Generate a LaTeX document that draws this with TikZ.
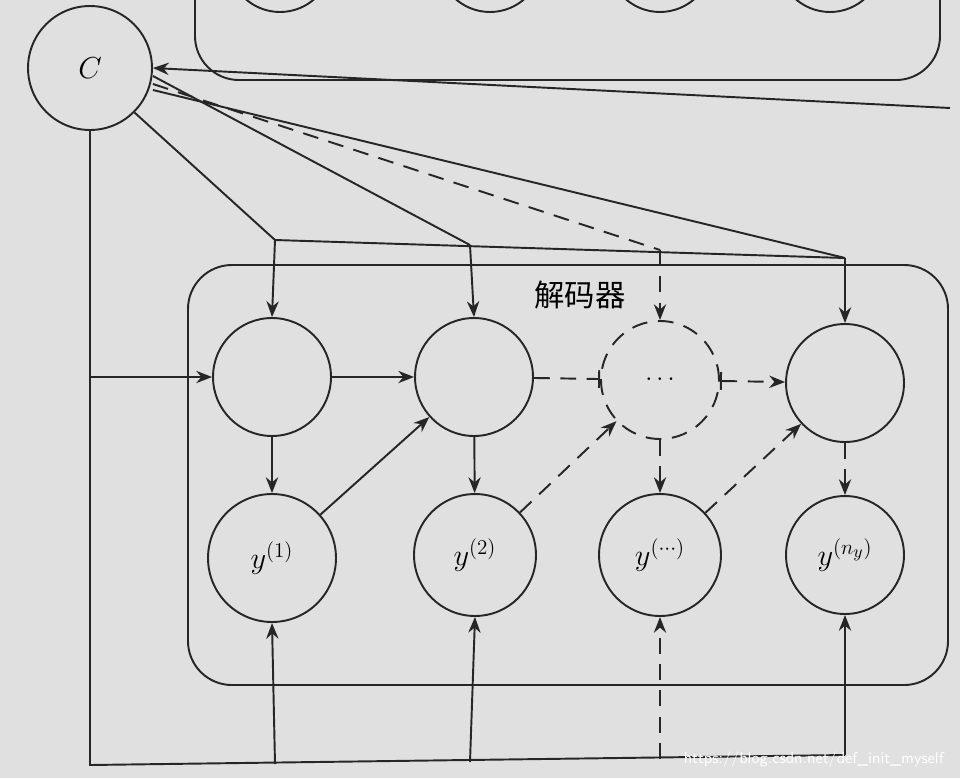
\documentclass[tikz,border=0pt]{standalone}
\usepackage{fontspec}
\newfontfamily\cjk{Noto Sans CJK SC}
\usetikzlibrary{arrows.meta}
\begin{document}
\begin{tikzpicture}[x=0.02cm,y=-0.02cm,
  ln/.style={line width=1.1pt,draw=black!85},
  ar/.style={ln,-{Stealth[length=9pt,width=7pt]}},
  cir/.style={circle,ln,inner sep=0pt},
  dsh/.style={dash pattern=on 9pt off 6pt}]
\fill[black!12] (0,0) rectangle (960,778);
\useasboundingbox (0,0) rectangle (960,778);
\begin{scope}
\clip (0,0) rectangle (960,778);
% top encoder box (partial)
\draw[ln,rounded corners=25pt] (195,-60) rectangle (940,80);
\foreach \x in {280,490,660,830} \draw[ln] (\x,-40) circle (52);
\end{scope}
\node[cir,minimum size=2.48cm] (C) at (90,68) {\LARGE $C$};
\coordinate (enc) at (950,108);
\draw[ar] (enc) -- (C.east);
% decoder box
\draw[ln,rounded corners=25pt] (188,265) rectangle (948,685);
\node at (580,295) {\cjk\LARGE 解码器};
% circles
\node[cir,minimum size=2.36cm] (h1) at (272,377) {};
\node[cir,minimum size=2.36cm] (h2) at (474,377) {};
\node[cir,minimum size=2.36cm,dsh] (h3) at (660,380) {\Large $\cdots$};
\node[cir,minimum size=2.36cm] (h4) at (845,383) {};
\node[cir,minimum size=2.56cm] (y1) at (272,558) {\LARGE $y^{(1)}$};
\node[cir,minimum size=2.44cm] (y2) at (475,555) {\LARGE $y^{(2)}$};
\node[cir,minimum size=2.44cm] (y3) at (660,555) {\LARGE $y^{(\cdots)}$};
\node[cir,minimum size=2.36cm] (y4) at (845,555) {\LARGE $y^{(n_y)}$};
% from C to top
\coordinate (t1) at (275,240);
\coordinate (t2) at (470,245);
\coordinate (t3) at (660,250);
\coordinate (t4) at (845,258);
\draw[ln] (t1) -- (t4);
\draw[ln] (C.south east) -- (t1); \draw[ar] (t1) -- (h1.north);
\draw[ln] (C.east) ++(0,8) -- (t2); \draw[ar] (t2) -- (h2.north);
\draw[ln,dsh] (C.east) ++(0,16) -- (t3); \draw[ar,dsh] (t3) -- (h3.north);
\draw[ln] (C.east) ++(0,22) -- (t4); \draw[ar] (t4) -- (h4.north);
% left and bottom lines
\coordinate (lb) at (90,765);
\coordinate (rb) at (845,755);
\coordinate (l1) at (90,377);
\draw[ln] (C.south) -- (lb) -- (rb);
\draw[ar] (l1) -- (h1.west);
\coordinate (b1) at (275,764);
\coordinate (b2) at (470,762);
\coordinate (b3) at (660,759);
\draw[ar] (b1) -- (y1.south);
\draw[ar] (b2) -- (y2.south);
\draw[ar,dsh] (b3) -- (y3.south);
\draw[ar] (rb) -- (y4.south);
% horizontal
\draw[ar] (h1) -- (h2);
\draw[ln,dsh,-{Bar[width=10pt]}] (h2) -- (h3);
\draw[ln,dsh,{Bar[width=10pt]}-{Stealth[length=9pt,width=7pt]}] (h3) -- (h4);
% vertical
\draw[ar] (h1) -- (y1);
\draw[ar] (h2) -- (y2);
\draw[ar,dsh] (h3) -- (y3);
\draw[ar,dsh] (h4) -- (y4);
% diagonal
\draw[ar] (y1) -- (h2);
\draw[ar,dsh] (y2) -- (h3);
\draw[ar,dsh] (y3) -- (h4);
\node[text=white,font=\sffamily\small,anchor=east] (wm) at (950,760) {https://blog.csdn.net/def\_init\_myself};
\end{tikzpicture}
\end{document}
